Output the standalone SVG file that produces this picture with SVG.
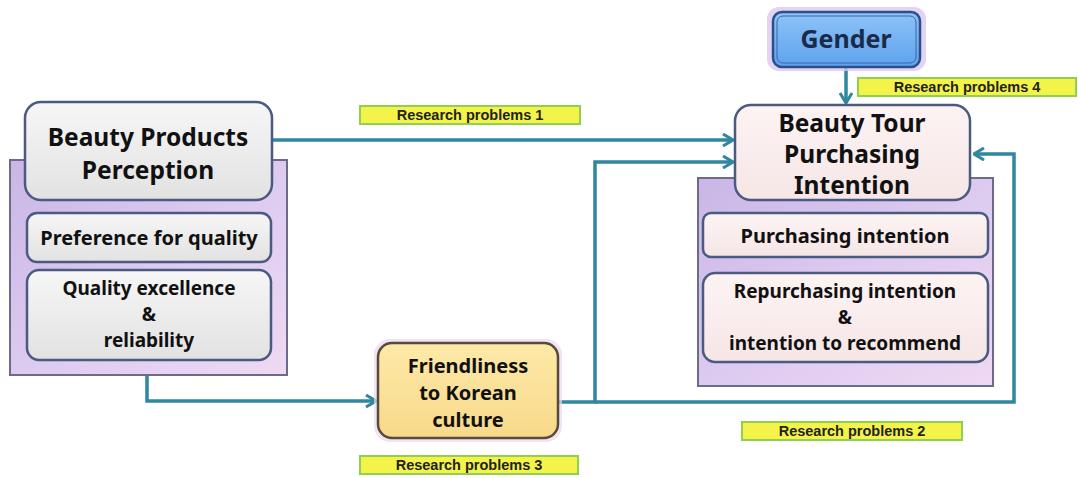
<svg xmlns="http://www.w3.org/2000/svg" width="1078" height="478" viewBox="0 0 1078 478">
<defs>
<linearGradient id="gGray" x1="0" y1="0" x2="0" y2="1"><stop offset="0" stop-color="#f6f6f6"/><stop offset="1" stop-color="#e2e2e2"/></linearGradient>
<linearGradient id="gPink" x1="0" y1="0" x2="0" y2="1"><stop offset="0" stop-color="#fdf3f3"/><stop offset="1" stop-color="#f6e6e6"/></linearGradient>
<linearGradient id="gPurple" x1="0" y1="0" x2="1" y2="1"><stop offset="0" stop-color="#c9b6e6"/><stop offset="0.5" stop-color="#dccaf0"/><stop offset="1" stop-color="#efd9f3"/></linearGradient>
<linearGradient id="gYellow" x1="0" y1="0" x2="0" y2="1"><stop offset="0" stop-color="#fde9a8"/><stop offset="1" stop-color="#f8d98a"/></linearGradient>
<linearGradient id="gBlue" x1="0" y1="0" x2="0" y2="1"><stop offset="0" stop-color="#8ec3f7"/><stop offset="1" stop-color="#5da2ee"/></linearGradient>
<marker id="arr" viewBox="0 0 12 14" refX="11" refY="7" markerWidth="12" markerHeight="14" markerUnits="userSpaceOnUse" orient="auto">
<path d="M1,1 L11,7 L1,13" fill="none" stroke="#2f87a0" stroke-width="3"/>
</marker>
</defs>
<style>
.cont{fill:url(#gPurple);stroke:#6b6b8a;stroke-width:2}
.box{stroke:#4a5a80;stroke-width:2.5}
.gray{fill:url(#gGray)}
.pink{fill:url(#gPink)}
.t{font-family:"Noto Sans","Open Sans",sans-serif;font-weight:bold;fill:#111;text-anchor:middle}
.big{font-size:24.5px}
.mid{font-size:20px}
.sm{font-size:19px}
.lbl{fill:#f3f34a;stroke:#90d050;stroke-width:2}
.lt{font-family:"Liberation Sans",Arial,sans-serif;font-weight:bold;font-size:14.5px;fill:#222;text-anchor:middle}
.c{fill:none;stroke:#2f87a0;stroke-width:3.5}
</style>
<rect width="1078" height="478" fill="#fff"/>
<g id="connectors">
<polyline class="c" points="272,140 733,140" marker-end="url(#arr)"/>
<polyline class="c" points="147,375 147,401 376,401" marker-end="url(#arr)"/>
<polyline class="c" points="558,402 595,402 595,162 733,162" marker-end="url(#arr)"/>
<polyline class="c" points="595,402 1014,402 1014,154 974,154" marker-end="url(#arr)"/>
<polyline class="c" points="846,66 846,103" marker-end="url(#arr)"/>
</g>
<g id="left-group">
<rect class="cont" x="10" y="160" width="277" height="215"/>
<g id="beauty-products-perception">
<rect class="box gray" x="25" y="102" width="247" height="98" rx="16"/>
<text class="t big" x="148" y="146">Beauty Products</text>
<text class="t big" x="148" y="179">Perception</text>
</g>
<g id="preference-for-quality">
<rect class="box gray" x="27" y="213" width="244" height="49" rx="10"/>
<text class="t mid" x="149" y="245">Preference for quality</text>
</g>
<g id="quality-excellence">
<rect class="box gray" x="27" y="270" width="244" height="90" rx="12"/>
<text class="t sm" x="149" y="295">Quality excellence</text>
<text class="t sm" x="149" y="321">&amp;</text>
<text class="t sm" x="149" y="347">reliability</text>
</g>
</g>
<g id="right-group">
<rect class="cont" x="698" y="178" width="295" height="208"/>
<g id="beauty-tour">
<rect class="box pink" x="735" y="105" width="235" height="95" rx="16"/>
<text class="t big" x="852" y="132">Beauty Tour</text>
<text class="t big" x="852" y="163">Purchasing</text>
<text class="t big" x="852" y="194">Intention</text>
</g>
<g id="purchasing-intention">
<rect class="box pink" x="703" y="213" width="285" height="44" rx="8"/>
<text class="t mid" x="845" y="243">Purchasing intention</text>
</g>
<g id="repurchasing">
<rect class="box pink" x="703" y="273" width="285" height="89" rx="12"/>
<text class="t sm" x="845" y="298">Repurchasing intention</text>
<text class="t sm" x="845" y="324">&amp;</text>
<text class="t sm" x="845" y="350">intention to recommend</text>
</g>
</g>
<g id="friendliness">
<rect x="374" y="339" width="188" height="103" rx="16" fill="#e8d8f0" opacity="0.7"/>
<rect x="378" y="343" width="180" height="95" rx="14" fill="url(#gYellow)" stroke="#5a4a3a" stroke-width="2.5"/>
<text class="t" x="468" y="373" style="font-size:20px">Friendliness</text>
<text class="t" x="468" y="400" style="font-size:20px">to Korean</text>
<text class="t" x="468" y="427" style="font-size:20px">culture</text>
</g>
<g id="gender">
<rect x="767" y="7" width="159" height="64" rx="12" fill="#dcc8f2" opacity="0.8"/>
<rect x="773" y="12" width="147" height="55" rx="9" fill="url(#gBlue)" stroke="#2d4f86" stroke-width="2.5"/>
<rect x="777" y="16" width="139" height="47" rx="6" fill="none" stroke="#3a64a8" stroke-width="1"/>
<text class="t" x="846" y="48" style="fill:#1b2a48;font-size:25px">Gender</text>
</g>
<g id="label1"><rect class="lbl" x="360" y="106" width="220" height="18"/><text class="lt" x="470" y="120">Research problems 1</text></g>
<g id="label2"><rect class="lbl" x="742" y="422" width="220" height="18"/><text class="lt" x="852" y="436">Research problems 2</text></g>
<g id="label3"><rect class="lbl" x="360" y="456" width="218" height="18"/><text class="lt" x="469" y="470">Research problems 3</text></g>
<g id="label4"><rect class="lbl" x="858" y="78" width="218" height="18"/><text class="lt" x="967" y="92">Research problems 4</text></g>
</svg>
